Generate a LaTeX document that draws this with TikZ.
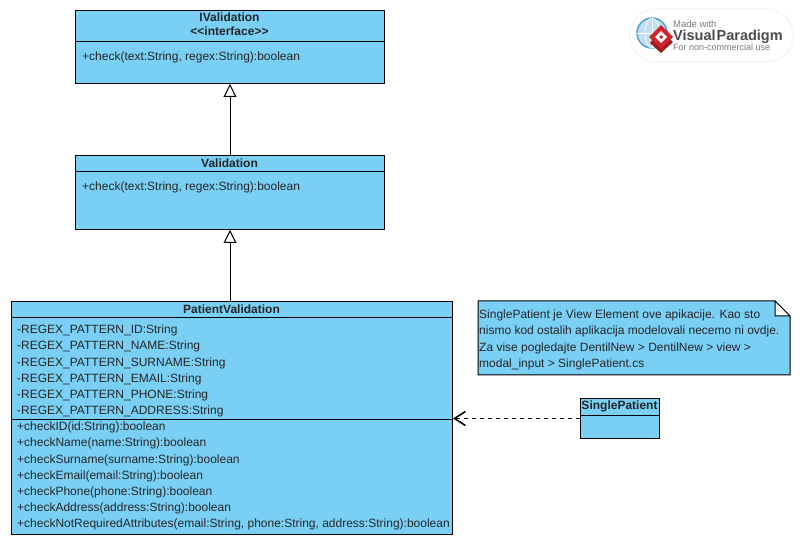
\documentclass[tikz,border=0pt]{standalone}
\usepackage{fontspec}
\usepackage{xcolor}
\usetikzlibrary{arrows.meta}
\setmainfont{Liberation Sans}
\definecolor{classblue}{HTML}{7ACFF5}
\definecolor{logored}{HTML}{D2232A}
\definecolor{logoblue}{HTML}{4FA3D8}
\definecolor{logogray}{HTML}{7A7A7A}
\tikzset{
	classbox/.style={draw=black, line width=1pt, fill=classblue, anchor=north west, inner sep=0pt},
	classtitle/.style={font=\fontsize{12}{14}\selectfont\bfseries, align=center, inner sep=0pt, text=black!85},
	classtext/.style={font=\fontsize{12}{16.1}\selectfont, align=left, anchor=north west, inner sep=0pt, text=black!85},
	generalize/.style={line width=1pt, -{Triangle[open, length=13pt, width=13pt, fill=white]}},
	depend/.style={line width=1.5pt, dash pattern=on 4.5pt off 3.5pt, -{Straight Barb[length=11pt, width=14pt]}},
}

\begin{document}
\begin{tikzpicture}[x=1pt, y=-1pt]
	\useasboundingbox (0,0) rectangle (801,545);

	\node[classbox, minimum width=309pt, minimum height=73pt] (ivalidation) at (75,10) {};
	\draw[line width=1pt] (75,42) -- (384,42);
	\node[classtitle] (ivalidationtitle) at (229.5,24.5) {IValidation\\<{}<interface>{}>};
	\node[classtext] (ivalidationops) at (82,52) {+check(text:String, regex:String):boolean};

	\node[classbox, minimum width=309pt, minimum height=74pt] (validation) at (75,155) {};
	\draw[line width=1pt] (75,172) -- (384,172);
	\node[classtitle] (validationtitle) at (229.5,163) {Validation};
	\node[classtext] (validationops) at (82,182) {+check(text:String, regex:String):boolean};

	\node[classbox, minimum width=441pt, minimum height=233pt] (patient) at (11,301) {};
	\draw[line width=1pt] (11,318) -- (452,318);
	\draw[line width=1pt] (11,419) -- (452,419);
	\node[classtitle] (patienttitle) at (231.5,309) {PatientValidation};
	\node[classtext] (patientattrs) at (17,325) {-REGEX\_PATTERN\_ID:String\\
		-REGEX\_PATTERN\_NAME:String\\
		-REGEX\_PATTERN\_SURNAME:String\\
		-REGEX\_PATTERN\_EMAIL:String\\
		-REGEX\_PATTERN\_PHONE:String\\
		-REGEX\_PATTERN\_ADDRESS:String};
	\node[classtext] (patientops) at (17,422) {+checkID(id:String):boolean\\
		+checkName(name:String):boolean\\
		+checkSurname(surname:String):boolean\\
		+checkEmail(email:String):boolean\\
		+checkPhone(phone:String):boolean\\
		+checkAddress(address:String):boolean\\
		+checkNotRequiredAttributes(email:String, phone:String, address:String):boolean};

	\node[classbox, minimum width=79pt, minimum height=40pt] (single) at (580,398) {};
	\draw[line width=1pt] (580,415) -- (659,415);
	\node[classtitle] (singletitle) at (619.5,406) {SinglePatient};

	\draw[line width=1pt, fill=classblue] (478,301) -- (775,301) -- (790,316) -- (790,375) -- (478,375) -- cycle;
	\draw[line width=1pt, fill=white] (775,301) -- (775,316) -- (790,316) -- cycle;
	\node[classtext] (notetext) at (479,310) {SinglePatient je View Element ove apikacije. Kao sto\\
		nismo kod ostalih aplikacija modelovali necemo ni ovdje.\\
		Za vise pogledajte DentilNew > DentilNew > view >\\
		modal\_input > SinglePatient.cs};

	\draw[generalize] (validation) -- (ivalidation);
	\draw[generalize] (patient.north -| validation.south) -- (validation.south);
	\draw[depend] (single.west) -- (single.west -| patient.east);

	\fill[white, draw=black!4, line width=1.5pt, rounded corners=26pt] (630,9) rectangle (793,62);
	\draw[logoblue, line width=1.5pt, fill=logoblue!35] (652,33) circle(15pt);
	\draw[white, line width=0.7pt] (637,33) -- (667,33);
	\draw[white, line width=0.7pt] (652,18) -- (652,48);
	\draw[white, line width=0.7pt] (652,33) ellipse(7pt and 15pt);
	\fill[logored!75!black] (660,30) -- (673,42) -- (661,53) -- (650,43) -- cycle;
	\fill[logored] (661,25) -- (673,37) -- (661,49) -- (649,37) -- cycle;
	\fill[white] (661,31) -- (667,37) -- (661,43) -- (655,37) -- cycle;
	\fill[logored] (661,35) -- (663,37) -- (661,39) -- (659,37) -- cycle;
	\node[anchor=base west, inner sep=0pt, text=logogray, font=\fontsize{9.5}{11}\selectfont] (logotop) at (673,27.5) {Made with};
	\node[anchor=base west, inner sep=0pt, text=black!70, font=\fontsize{14.5}{16}\selectfont\bfseries] (logoname) at (673,41) {Visual\hspace{1pt}Paradigm};
	\node[anchor=base west, inner sep=0pt, text=logogray, font=\fontsize{9}{11}\selectfont] (logobottom) at (673,51) {For non-commercial use};
\end{tikzpicture}
\end{document}
